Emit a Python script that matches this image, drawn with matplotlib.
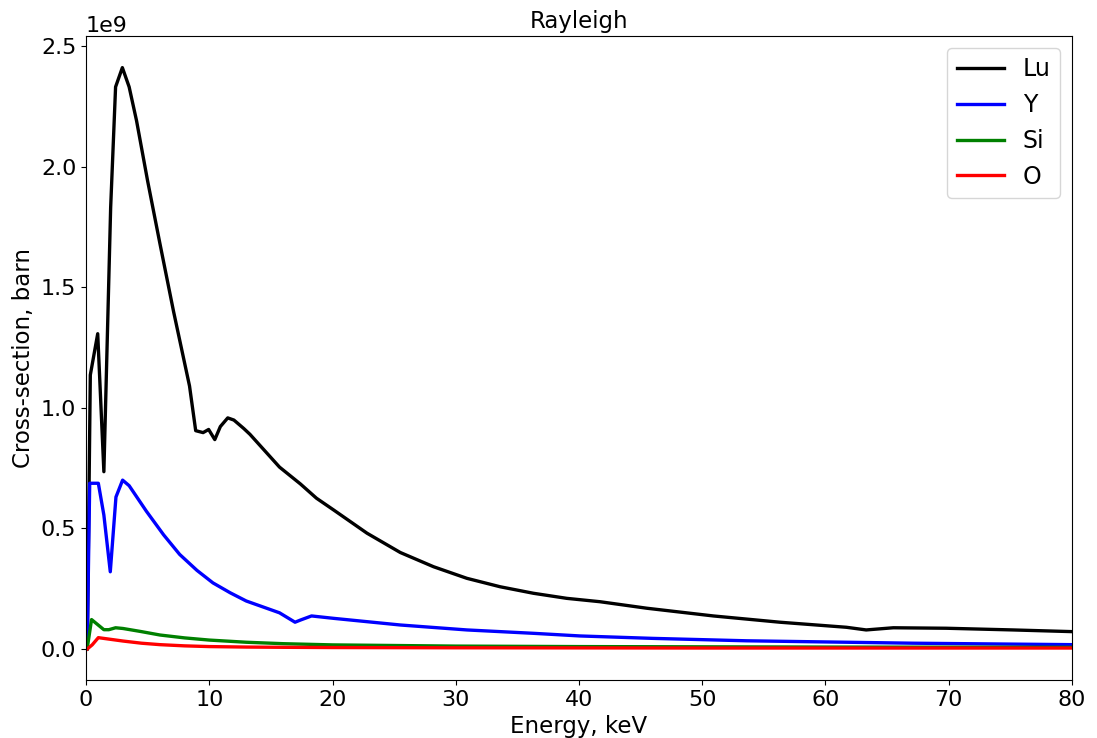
import numpy as np
import matplotlib
matplotlib.use("Agg")
import matplotlib.pyplot as plt

# cross-sections, in units of 1e9 barn
e_lu = [0.1, 0.35, 0.95, 1.45, 2.0, 2.4, 2.95, 3.5, 4.1, 5.0, 6.0, 7.1, 8.4, 8.9,
        9.5, 9.95, 10.45, 10.9, 11.5, 12.0, 12.8, 13.3, 15.7, 17.4, 18.7, 20.1,
        22.8, 25.5, 28.2, 30.9, 33.6, 36.3, 39.0, 41.7, 45.5, 50.9, 56.3, 61.7,
        63.3, 65.5, 69.8, 75.2, 80.0]
cs_lu = [0.0, 1.136, 1.307, 0.735, 1.83, 2.33, 2.41, 2.33, 2.19, 1.94, 1.68, 1.40,
         1.09, 0.905, 0.897, 0.91, 0.868, 0.922, 0.958, 0.949, 0.914, 0.89, 0.754,
         0.684, 0.625, 0.576, 0.48, 0.40, 0.341, 0.293, 0.258, 0.231, 0.210, 0.196,
         0.169, 0.137, 0.111, 0.090, 0.079, 0.088, 0.086, 0.079, 0.072]

e_y = [0.1, 0.3, 1.0, 1.45, 1.97, 2.43, 2.97, 3.5, 4.9, 6.3, 7.6, 9.0, 10.3, 11.7,
       13.0, 15.7, 16.96, 17.4, 18.3, 20.1, 25.5, 30.9, 36.3, 40.1, 46.0, 53.6,
       67.1, 80.0]
cs_y = [0.01, 0.687, 0.687, 0.555, 0.32, 0.63, 0.70, 0.677, 0.571, 0.473, 0.392,
        0.326, 0.274, 0.233, 0.199, 0.150, 0.111, 0.120, 0.137, 0.127, 0.0995,
        0.079, 0.065, 0.054, 0.044, 0.034, 0.024, 0.018]

e_si = [0.1, 0.45, 1.45, 1.85, 2.4, 3.0, 4.5, 6.0, 8.0, 10.0, 13.0, 16.0, 20.0,
        30.0, 40.0, 60.0, 80.0]
cs_si = [0.003, 0.122, 0.08, 0.08, 0.088, 0.085, 0.072, 0.058, 0.046, 0.037,
         0.028, 0.022, 0.017, 0.012, 0.010, 0.008, 0.007]

e_o = [0.1, 0.5, 1.0, 2.0, 3.0, 4.5, 6.0, 8.0, 10.0, 13.0, 16.0, 20.0, 30.0,
       50.0, 80.0]
cs_o = [0.0, 0.017, 0.047, 0.040, 0.033, 0.024, 0.018, 0.013, 0.010, 0.008,
        0.007, 0.006, 0.005, 0.004, 0.004]

labels = ["Lu", "Y", "Si", "O"]
colors = ["black", "blue", "green", "red"]

fig = plt.figure(figsize=(10.97, 7.38), dpi=100)
ax = fig.add_axes([0.0784, 0.0786, 0.8988, 0.8726])

series = [(e_lu, cs_lu), (e_y, cs_y), (e_si, cs_si), (e_o, cs_o)]
for (e, cs), lab, c in zip(series, labels, colors):
    ax.plot(e, np.array(cs) * 1e9, color=c, lw=2.4, label=lab)

ax.set_xlim(0, 80)
ax.set_ylim(-0.1285e9, 2.541e9)
ax.set_title("Rayleigh", fontsize=16.5)
ax.set_xlabel("Energy, keV", fontsize=16.5)
ax.set_ylabel("Cross-section, barn", fontsize=16.5)
ax.tick_params(labelsize=16)
ax.yaxis.get_offset_text().set_fontsize(16)
ax.legend(loc=1, fontsize=17, frameon=True)

fig.savefig("out.png", dpi=100)
